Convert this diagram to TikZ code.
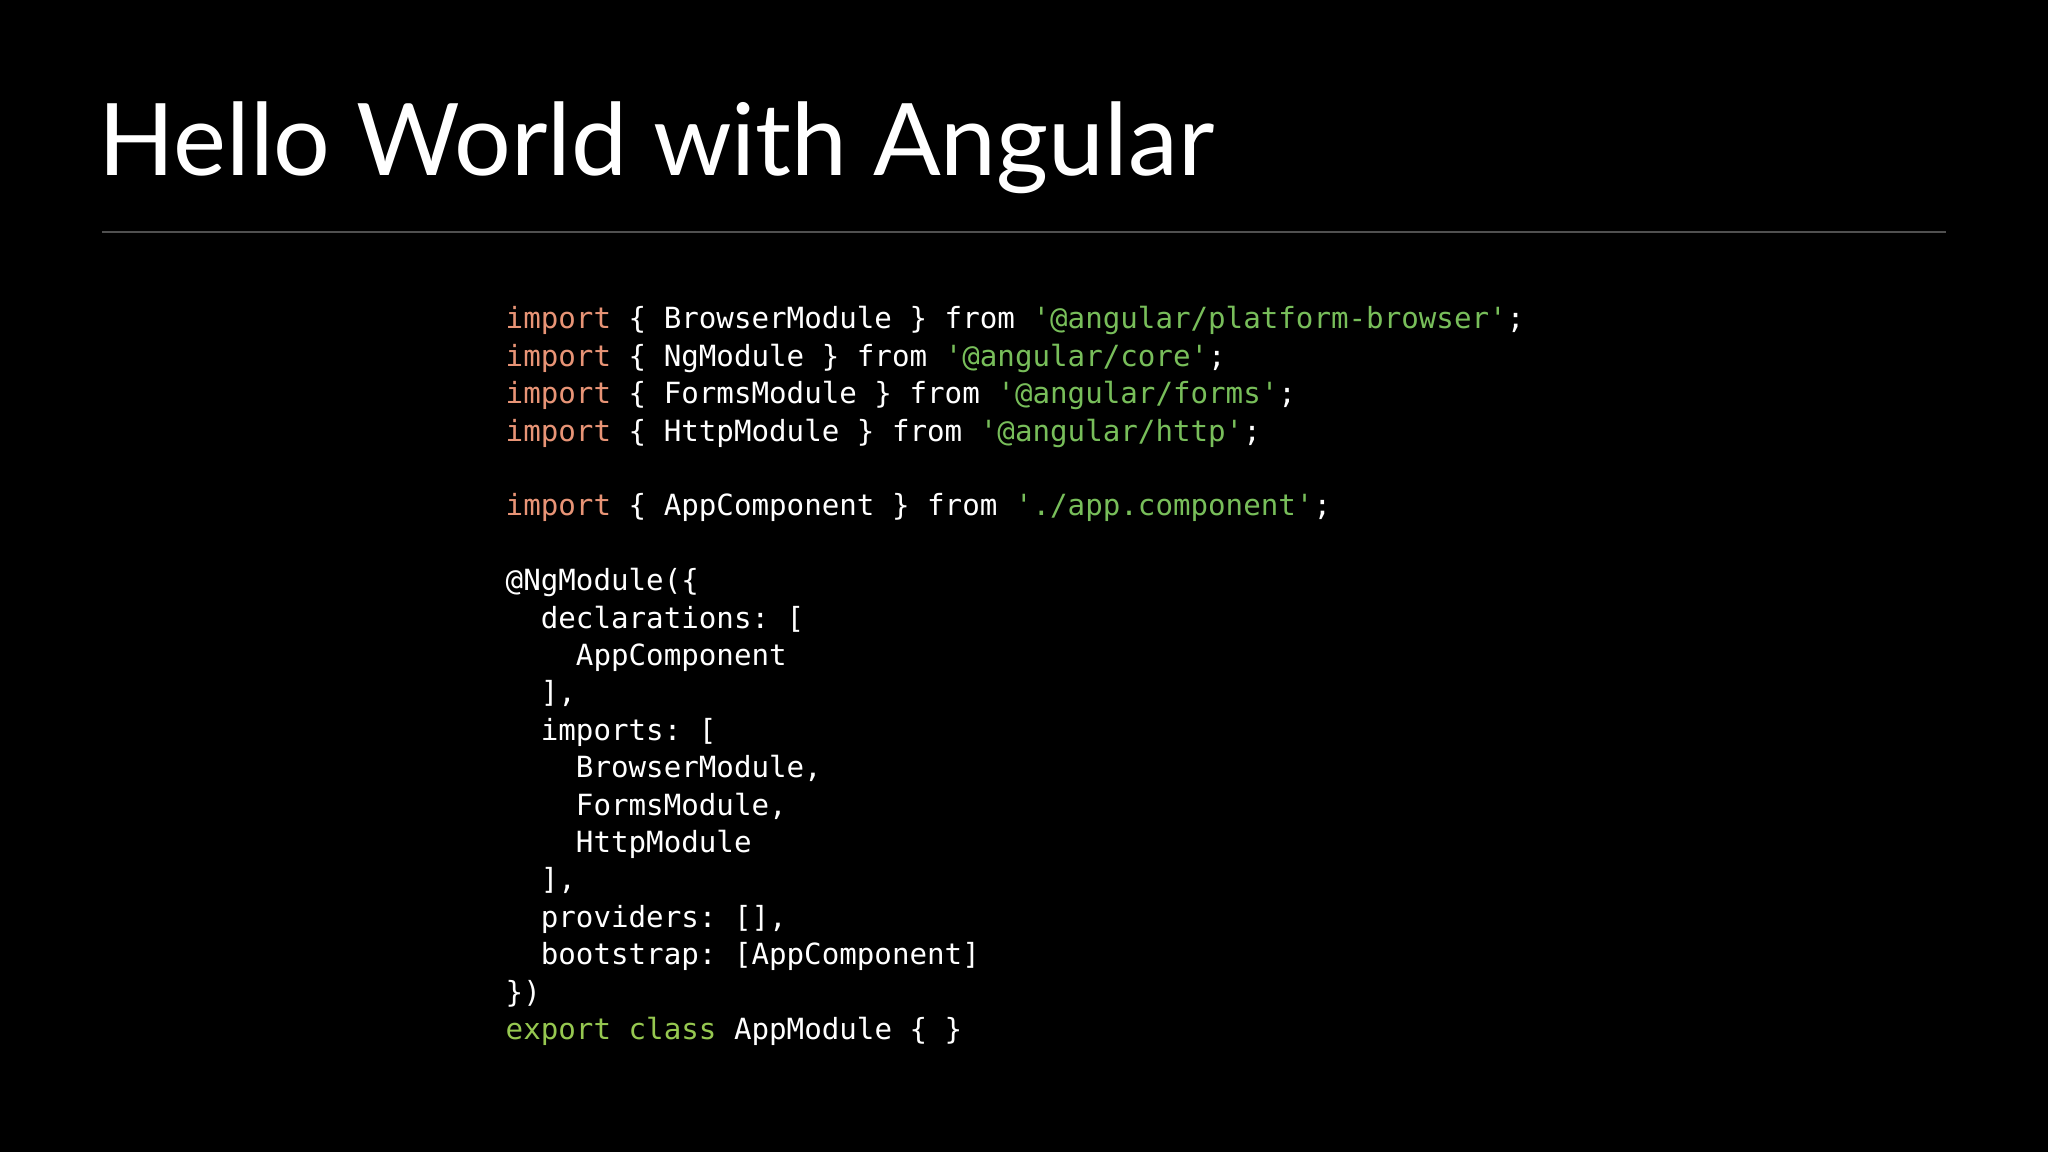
\documentclass[tikz,border=0pt]{standalone}
\usepackage{fontspec}
\setmainfont{Lato}
\setmonofont{DejaVu Sans Mono}
\definecolor{kw}{RGB}{232,148,118}
\definecolor{str}{RGB}{120,190,90}
\definecolor{kw2}{RGB}{150,200,80}
\definecolor{rule}{RGB}{80,80,80}
\begin{document}
\begin{tikzpicture}[x=1cm,y=1cm,
  codeline/.style={anchor=base west,inner sep=0pt,text=white,font=\ttfamily\fontsize{8.3}{10}\selectfont},
  titletext/.style={anchor=base west,inner sep=0pt,text=white,font=\fontsize{28.5}{34}\selectfont}]
\fill[black] (0,0) rectangle (20.48,11.52);
\useasboundingbox (0,0) rectangle (20.48,11.52);
\node[titletext] (title) at (0.98,9.76) {Hello World with Angular};
\coordinate (rl) at (1.02,9.20);
\coordinate (rr) at (19.46,9.20);
\draw[rule,line width=0.6pt] (rl) -- (rr);
\def\L#1#2{\node[codeline] (c#1) at (5.05,{8.23-#1*0.374}) {#2};}
\L{0}{\textcolor{kw}{import} \{ BrowserModule \} from \textcolor{str}{'@angular/platform-browser'};}
\L{1}{\textcolor{kw}{import} \{ NgModule \} from \textcolor{str}{'@angular/core'};}
\L{2}{\textcolor{kw}{import} \{ FormsModule \} from \textcolor{str}{'@angular/forms'};}
\L{3}{\textcolor{kw}{import} \{ HttpModule \} from \textcolor{str}{'@angular/http'};}
\L{5}{\textcolor{kw}{import} \{ AppComponent \} from \textcolor{str}{'./app.component'};}
\L{7}{@NgModule(\{}
\L{8}{\ \ declarations: [}
\L{9}{\ \ \ \ AppComponent}
\L{10}{\ \ ],}
\L{11}{\ \ imports: [}
\L{12}{\ \ \ \ BrowserModule,}
\L{13}{\ \ \ \ FormsModule,}
\L{14}{\ \ \ \ HttpModule}
\L{15}{\ \ ],}
\L{16}{\ \ providers: [],}
\L{17}{\ \ bootstrap: [AppComponent]}
\L{18}{\})}
\L{19}{\textcolor{kw2}{export class} AppModule \{ \}}
\end{tikzpicture}
\end{document}
